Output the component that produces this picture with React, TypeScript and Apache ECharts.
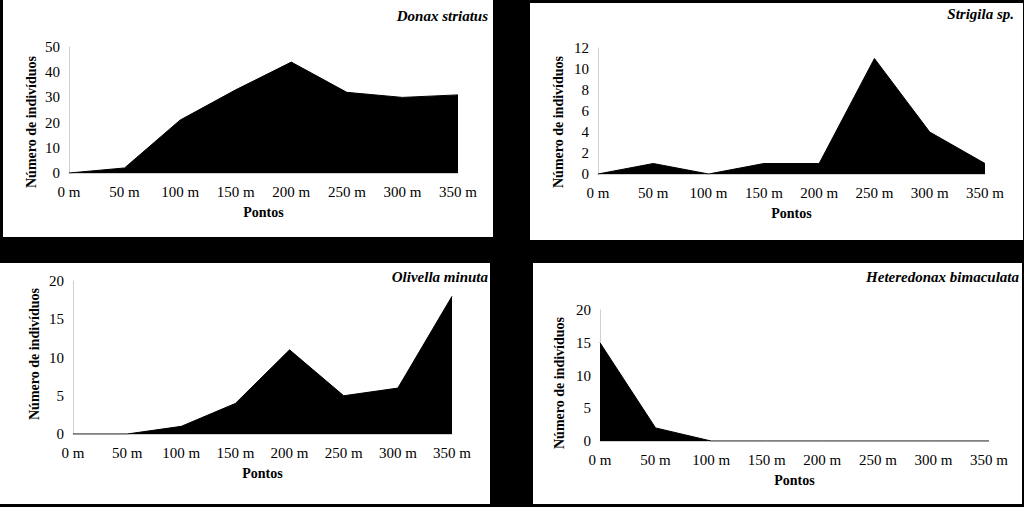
import React, { useEffect, useRef } from "react";
import * as echarts from "echarts";

const pontos = ["0 m", "50 m", "100 m", "150 m", "200 m", "250 m", "300 m", "350 m"];
const donaxStriatus = [0, 2, 21, 33, 44, 32, 30, 31];
const strigilaSp = [0, 1, 0, 1, 1, 11, 4, 1];
const olivellaMinuta = [0, 0, 1, 4, 11, 5, 6, 18];
const heteredonaxBimaculata = [15, 2, 0, 0, 0, 0, 0, 0];
const titles = ["Donax striatus", "Strigila sp.", "Olivella minuta", "Heteredonax bimaculata"];
const yAxisTitle = "Número de indivíduos";
const xAxisTitle = "Pontos";
const yMax = [50, 12, 20, 20];
const yStep = [10, 2, 5, 5];

const FONT = "'Liberation Serif', 'Times New Roman', serif";

export default function App() {
  const ref = useRef<HTMLDivElement>(null);
  useEffect(() => {
    if (!ref.current) return;
    const chart = echarts.init(ref.current, undefined, { renderer: "svg" });
    const seriesData = [donaxStriatus, strigilaSp, olivellaMinuta, heteredonaxBimaculata];
    const grids = [
      { left: 69, right: 566, top: 47, bottom: 334 },
      { left: 598, right: 39, top: 48, bottom: 333 },
      { left: 73, right: 572, top: 281, bottom: 73 },
      { left: 600, right: 35, top: 310, bottom: 66 },
    ];
    const panels = [
      { x: 3, y: 0, w: 490, h: 237 },
      { x: 530, y: 3, w: 493, h: 237 },
      { x: 0, y: 263, w: 490, h: 241 },
      { x: 533, y: 263, w: 489, h: 241 },
    ];
    const titlePos = [
      { x: 488, y: 16 },
      { x: 1014, y: 14 },
      { x: 488, y: 277 },
      { x: 1019, y: 277 },
    ];
    const yNamePos = [
      { x: 31, y: 122 },
      { x: 558, y: 122 },
      { x: 34, y: 354 },
      { x: 559, y: 383 },
    ];
    const axisLine = { show: true, lineStyle: { color: "#d0d0d0", width: 1 } };
    const option: any = {
      animation: false,
      backgroundColor: "#000",
      graphic: [
        ...panels.map((p) => ({
          type: "rect",
          shape: { x: p.x, y: p.y, width: p.w, height: p.h },
          style: { fill: "#fff" },
          z: -10,
          silent: true,
        })),
        ...titles.map((t, i) => ({
          type: "text",
          x: titlePos[i].x,
          y: titlePos[i].y,
          style: {
            text: t,
            fill: "#000",
            font: `italic bold 15px ${FONT}`,
            align: "right",
            verticalAlign: "middle",
          },
        })),
        ...yNamePos.map((p) => ({
          type: "text",
          x: p.x,
          y: p.y,
          rotation: Math.PI / 2,
          style: {
            text: yAxisTitle,
            fill: "#000",
            font: `bold 14px ${FONT}`,
            align: "center",
            verticalAlign: "middle",
          },
        })),
      ],
      grid: grids.map((g) => ({ ...g, containLabel: false })),
      xAxis: grids.map((_, i) => ({
        type: "category",
        gridIndex: i,
        data: pontos,
        boundaryGap: false,
        axisLine,
        axisTick: { show: false },
        axisLabel: { color: "#000", fontFamily: FONT, fontSize: 15, margin: 11 },
        name: xAxisTitle,
        nameLocation: "middle",
        nameGap: 32,
        nameTextStyle: { color: "#000", fontFamily: FONT, fontSize: 14, fontWeight: "bold" },
        splitLine: { show: false },
      })),
      yAxis: grids.map((_, i) => ({
        type: "value",
        gridIndex: i,
        min: 0,
        max: yMax[i],
        interval: yStep[i],
        axisLine,
        axisTick: { show: false },
        axisLabel: { color: "#000", fontFamily: FONT, fontSize: 15, margin: 9 },
        splitLine: { show: false },
      })),
      series: seriesData.map((d, i) => ({
        type: "line",
        name: titles[i],
        xAxisIndex: i,
        yAxisIndex: i,
        data: d,
        symbol: "none",
        lineStyle: { color: "#000", width: 1 },
        areaStyle: { color: "#000", opacity: 1 },
        itemStyle: { color: "#000" },
      })),
    };
    chart.setOption(option);
    return () => chart.dispose();
  }, []);
  return (
    <div
      ref={ref}
      style={{ position: "absolute", left: 0, top: 0, width: 1024, height: 507 }}
    />
  );
}
